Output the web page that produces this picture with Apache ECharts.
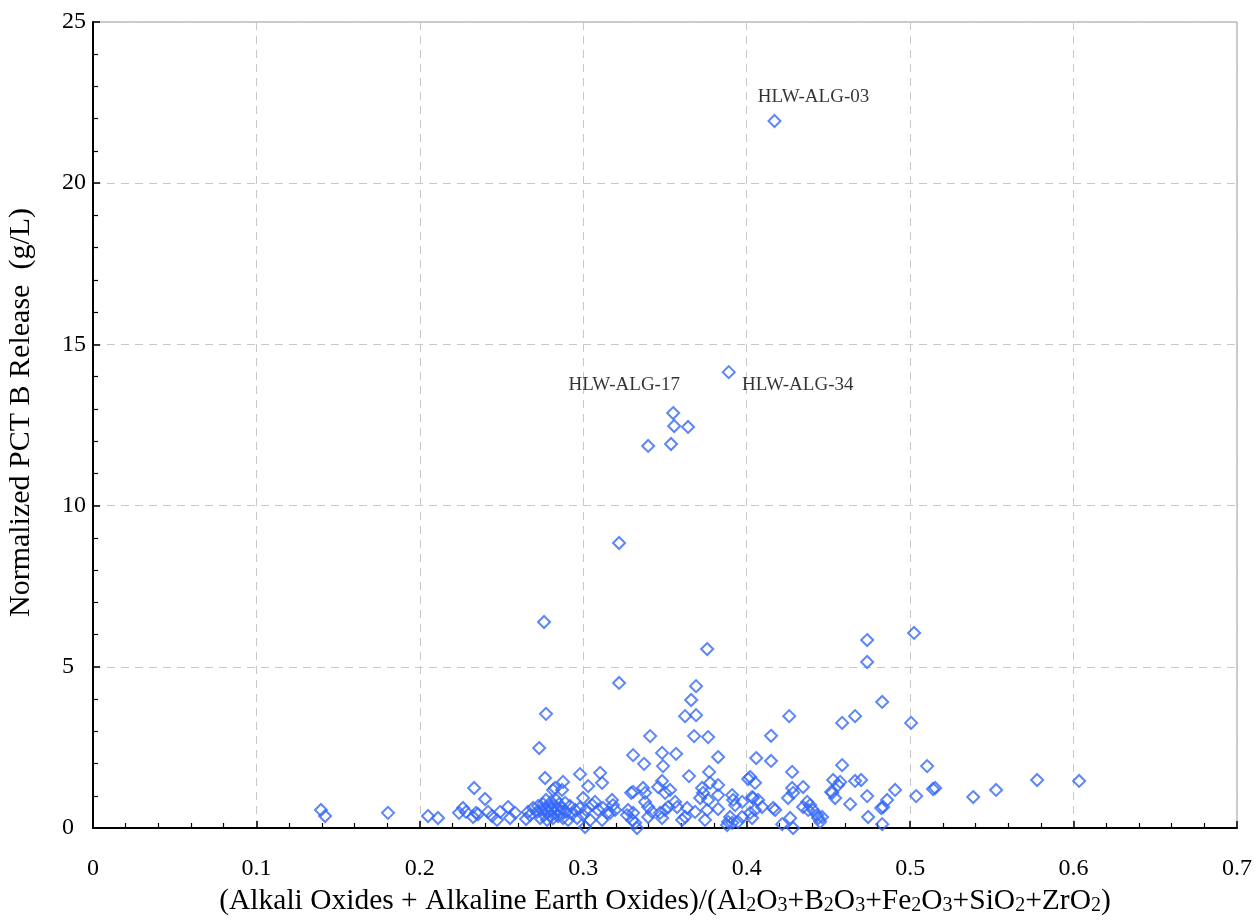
<!DOCTYPE html>
<html>
<head>
<meta charset="utf-8">
<script src="https://cdn.jsdelivr.net/npm/echarts@6/dist/echarts.min.js"></script>
<style>html,body{margin:0;padding:0;background:#fff}#c{width:1257px;height:924px}</style>
</head>
<body>
<div id="c"></div>
<script>
const xTicks = ['0','0.1','0.2','0.3','0.4','0.5','0.6','0.7'];
const yTicks = ['0','5','10','15','20','25'];

const labeledPoints = [
  {name:'HLW-ALG-03', value:[0.417,21.93], offset:[39,-24]},
  {name:'HLW-ALG-34', value:[0.389,14.14], offset:[69,13]},
  {name:'HLW-ALG-17', value:[0.355,12.87], offset:[-49,-28]}
];

const highPoints = [
  [0.3556,12.47],[0.3641,12.44],[0.3397,11.85],[0.3537,11.91],[0.3219,8.84],[0.276,6.39],
  [0.5024,6.05],[0.4737,5.83],[0.3758,5.55],[0.4737,5.15],[0.3219,4.50],[0.369,4.40],
  [0.366,3.97],[0.4829,3.91],[0.3623,3.47],[0.369,3.50],[0.426,3.47],[0.4663,3.47],
  [0.4584,3.26],[0.5006,3.26],[0.2772,3.54]
];

const midPoints = [
  [0.3409,2.85],[0.3678,2.85],[0.3764,2.82],[0.4149,2.86],[0.273,2.48],[0.3305,2.26],
  [0.3482,2.33],[0.3568,2.30],[0.3825,2.20],[0.4058,2.17],[0.4149,2.08],[0.3372,1.99],
  [0.3488,1.92],[0.4584,1.95],[0.5104,1.92],[0.3103,1.71],[0.298,1.67],[0.377,1.74],
  [0.4278,1.74],[0.3647,1.61],[0.2766,1.55],[0.4021,1.58],[0.4009,1.52],[0.2876,1.43],
  [0.3115,1.40],[0.3776,1.40],[0.3482,1.46],[0.4051,1.40],[0.4529,1.49],[0.47,1.49],
  [0.4663,1.46],[0.4572,1.43],[0.4559,1.33],[0.5777,1.49],[0.6034,1.46],[0.3825,1.33],
  [0.303,1.30],[0.3458,1.27],[0.4345,1.27],[0.2332,1.24],[0.2827,1.24],[0.3366,1.24],
  [0.3727,1.24],[0.4278,1.24],[0.5153,1.24],[0.514,1.21],[0.287,1.18],[0.2815,1.18],
  [0.3531,1.18],[0.4908,1.18],[0.5526,1.18],[0.3305,1.12],[0.4517,1.12],[0.3293,1.09],
  [0.3378,1.09],[0.3501,1.09],[0.3733,1.09],[0.4284,1.09],[0.4523,1.09],[0.3825,1.02],
  [0.3911,1.02],[0.5037,0.99],[0.4737,0.99],[0.5386,0.96],[0.4033,0.96]
];

const lowLeft = [
  [0.1395,0.56],[0.142,0.37],[0.1805,0.47],[0.205,0.37],[0.2111,0.31],[0.224,0.47],
  [0.2264,0.62],[0.2283,0.50],[0.2326,0.34],[0.2344,0.47],[0.2356,0.43],[0.2399,0.90],
  [0.2417,0.50],[0.2442,0.37],[0.2472,0.25],[0.2491,0.50],[0.254,0.65],[0.2552,0.31],
  [0.2583,0.47],[0.265,0.28],[0.2662,0.50],[0.2674,0.40],[0.2693,0.62]
];

const lowCluster = [
  [0.2717,0.50],[0.2723,0.68],[0.2736,0.31],[0.2742,0.56],[0.2754,0.74],[0.276,0.40],
  [0.2766,0.59],[0.2772,0.87],[0.2778,0.25],[0.2785,0.50],[0.2791,0.68],[0.2797,0.37],
  [0.2803,0.81],[0.2809,0.56],[0.2815,0.31],[0.2821,0.68],[0.2827,0.47],[0.2834,0.87],
  [0.284,0.59],[0.2846,0.37],[0.2852,0.74],[0.2858,0.50],[0.287,0.62],[0.2876,0.31],
  [0.2889,0.78],[0.2895,0.50],[0.2907,0.25],[0.2919,0.68],[0.2931,0.43],[0.295,0.56],
  [0.2962,0.31],[0.298,0.62],[0.2999,0.40],[0.2999,0.93],[0.3011,0.03],[0.3017,0.56],
  [0.3042,0.25],[0.3054,0.71],[0.3072,0.81]
];

const lowMid = [
  [0.3091,0.56],[0.3121,0.62],[0.3146,0.47],[0.3115,0.25],[0.3176,0.87],[0.3182,0.71],
  [0.3195,0.56],[0.3164,0.47],[0.3274,0.56],[0.3268,0.40],[0.3299,0.25],[0.3317,0.16],
  [0.3329,0.0],[0.3305,0.47],[0.3378,0.81],[0.3397,0.65],[0.3397,0.34],[0.3421,0.50],
  [0.347,0.47],[0.3482,0.31],[0.3501,0.56],[0.3519,0.65],[0.3562,0.81],[0.3574,0.65],
  [0.3605,0.25],[0.3623,0.34],[0.3635,0.62],[0.3684,0.50],[0.3715,0.93],[0.3745,0.25],
  [0.3758,0.56],[0.3764,0.87],[0.3825,0.59],[0.388,0.09],[0.3886,0.19],[0.3898,0.34],
  [0.3911,0.16],[0.3917,0.87],[0.3929,0.71],[0.3947,0.19],[0.3972,0.81],[0.3972,0.34]
];

const lowRight = [
  [0.4021,0.47],[0.4033,0.31],[0.4039,0.93],[0.4051,0.56],[0.407,0.87],[0.4094,0.65],
  [0.4162,0.62],[0.4174,0.56],[0.4217,0.12],[0.4253,0.93],[0.4266,0.31],[0.4284,0.0],
  [0.4345,0.65],[0.437,0.81],[0.4376,0.56],[0.4388,0.71],[0.4406,0.56],[0.4431,0.40],
  [0.4437,0.31],[0.4449,0.19],[0.4461,0.34],[0.4541,0.93],[0.4633,0.74],[0.4743,0.34],
  [0.4823,0.62],[0.4829,0.12],[0.4835,0.65],[0.4859,0.87]
];

const FONT = '"Liberation Serif", "Times New Roman", serif';
const blue = '#3468f6';
const allPoints = [].concat(highPoints, midPoints, lowLeft, lowCluster, lowMid, lowRight);

const chart = echarts.init(document.getElementById('c'), null, {renderer:'canvas'});
chart.setOption({
  backgroundColor: '#fff',
  animation: false,
  grid: {left:93, top:22, right:20, bottom:96, containLabel:false, outerBoundsMode:'none',
    show:true, borderColor:'#999', borderWidth:1},
  xAxis: {
    type:'value', min:0, max:0.7, interval:0.1,
    name:'{n|(Alkali Oxides + Alkaline Earth Oxides)/(Al}{s|2}{n|O}{s|3}{n|+B}{s|2}{n|O}{s|3}{n|+Fe}{s|2}{n|O}{s|3}{n|+SiO}{s|2}{n|+ZrO}{s|2}{n|)}',
    nameLocation:'middle', nameGap:56,
    nameTextStyle:{
      rich:{
        n:{fontFamily:FONT, fontSize:29.5, color:'#000', lineHeight:32},
        s:{fontFamily:FONT, fontSize:20, color:'#000', padding:[10,0,0,0], lineHeight:32}
      }
    },
    axisLine:{show:true, onZero:false, lineStyle:{color:'#000', width:2}},
    axisTick:{show:true, inside:true, length:7, lineStyle:{color:'#000', width:1.5}},
    minorTick:{show:true, splitNumber:5, length:5, lineStyle:{color:'#000', width:1.2}},
    axisLabel:{fontFamily:FONT, fontSize:24, color:'#000', margin:29,
      formatter:function(v){ const i = Math.round(v*10); return xTicks[i] !== undefined ? xTicks[i] : ''; }},
    splitLine:{show:true, lineStyle:{color:'#c8c8c8', type:[8,6], width:1}},
    minorSplitLine:{show:false}
  },
  yAxis: {
    type:'value', min:0, max:25, interval:5,
    name:'Normalized PCT B Release  (g/L)',
    nameLocation:'middle', nameGap:57,
    nameTextStyle:{fontFamily:FONT, fontSize:30, color:'#000', padding:[0,0,0,25]},
    axisLine:{show:true, onZero:false, lineStyle:{color:'#000', width:2}},
    axisTick:{show:true, inside:true, length:7, lineStyle:{color:'#000', width:1.5}},
    minorTick:{show:true, splitNumber:5, length:5, lineStyle:{color:'#000', width:1.2}},
    axisLabel:{fontFamily:FONT, fontSize:24, color:'#000', margin:31, align:'left',
      formatter:function(v){ const i = Math.round(v/5); return yTicks[i] !== undefined ? yTicks[i] : ''; }},
    splitLine:{show:true, lineStyle:{color:'#c8c8c8', type:[8,6], width:1}}
  },
  series: [
    {
      type:'scatter', symbol:'diamond', symbolSize:12,
      itemStyle:{color:'rgba(0,0,0,0)', borderColor:blue, borderWidth:2},
      data: allPoints
    },
    {
      type:'scatter', symbol:'diamond', symbolSize:12,
      itemStyle:{color:'rgba(0,0,0,0)', borderColor:blue, borderWidth:2},
      data: labeledPoints.map(p => ({
        name:p.name, value:p.value,
        label:{show:true, formatter:p.name, position:'inside', offset:p.offset,
          fontFamily:FONT, fontSize:19, color:'#000'}
      }))
    }
  ]
});
</script>
</body>
</html>
